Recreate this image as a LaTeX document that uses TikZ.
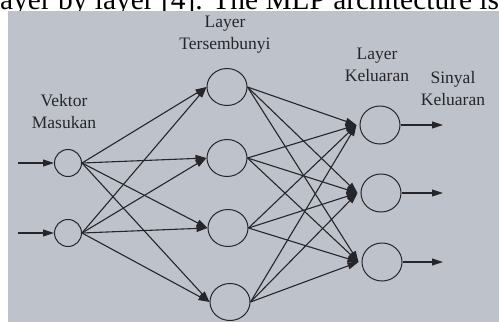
\documentclass[tikz,border=0pt]{standalone}
\usepackage{fontspec}
\setmainfont{Liberation Serif}
\usetikzlibrary{arrows.meta,shapes.geometric}
\definecolor{paper}{HTML}{BEC2CA}
\definecolor{ink}{HTML}{26262A}
\begin{document}
\begin{tikzpicture}[x=1pt,y=-1pt,
  neuron/.style={ellipse,draw=ink,line width=1pt,inner sep=0pt},
  inneuron/.style={neuron,minimum width=27pt,minimum height=27pt},
  bigneuron/.style={neuron,minimum width=40pt,minimum height=37pt},
  link/.style={draw=ink,line width=1.1pt,-{Triangle[length=11pt,width=7pt]}},
  caption/.style={font=\fontsize{17.5}{22}\selectfont,align=center,text=ink,inner sep=0pt}]
  \useasboundingbox (0,0) rectangle (499,322);
  % running text of the page above the figure
  \node[anchor=base west,inner sep=0pt,font=\fontsize{29.4}{30}\selectfont] (head) at (0,9.3)
    {ayer by layer [4]. The MLP architecture is};
  % the figure itself
  \fill[paper] (8,11) rectangle (499,322);

  % labels
  \node[caption] (lin)  at (64,112) {Vektor\\Masukan};
  \node[caption] (lhid) at (225,35) {Layer\\Tersembunyi};
  \node[caption] (lout) at (377,64.5) {Layer\\Keluaran};
  \node[caption] (lsig) at (453,89) {Sinyal\\Keluaran};

  % neurons
  \node[inneuron] (i1) at (68,163) {};
  \node[inneuron] (i2) at (68,233) {};
  \node[bigneuron] (h1) at (227,87) {};
  \node[bigneuron] (h2) at (227,158) {};
  \node[bigneuron] (h3) at (228,228) {};
  \node[bigneuron] (h4) at (230,302) {};
  \node[bigneuron,minimum height=38pt] (o1) at (380,125) {};
  \node[bigneuron,minimum height=38pt] (o2) at (381,193) {};
  \node[bigneuron,minimum height=38pt] (o3) at (382,262) {};

  % inputs and outputs
  \coordinate (s1) at (18,163);
  \coordinate (s2) at (18,233);
  \coordinate (t1) at (443,125);
  \coordinate (t2) at (443,193);
  \coordinate (t3) at (443,262);
  \draw[link] (s1) -- (i1.west);
  \draw[link] (s2) -- (i2.west);
  \foreach \k in {1,2,3} \draw[link] (o\k.east) -- (t\k);

  % fully connected layers
  \foreach \a in {1,2} \foreach \b in {1,2,3,4}
    \draw[link] (i\a.east) -- (h\b.west);
  \foreach \b in {1,2,3,4} \foreach \c in {1,2,3}
    \draw[link] (h\b.east) -- ([xshift=-3pt]o\c.west);
\end{tikzpicture}
\end{document}
